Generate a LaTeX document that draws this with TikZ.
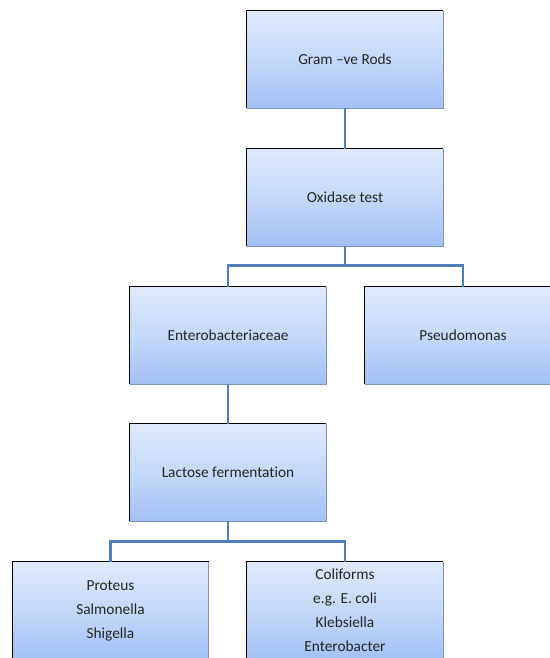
\documentclass[tikz,border=0pt]{standalone}
\usepackage{fontspec}
\setmainfont{Carlito}[Ligatures={NoCommon,NoRare}]
\usetikzlibrary{calc}
\definecolor{topc}{HTML}{E0E9FB}
\definecolor{midc}{HTML}{C5D8F9}
\definecolor{botc}{HTML}{A3C0F6}
\definecolor{edgec}{HTML}{4F7EB8}
\definecolor{rimc}{HTML}{8094B8}
\begin{document}
\begin{tikzpicture}[x=0.75pt,y=-0.75pt,
  box/.style={rectangle, inner sep=0pt, minimum width=147pt, minimum height=72.75pt,
    top color=topc, bottom color=botc, middle color=midc, draw=none,
    font=\fontsize{11.5pt}{18pt}\selectfont, align=center, text=black!85},
  link/.style={draw=edgec, line width=2.2pt}]
\useasboundingbox (0,0) rectangle (550,658);
\node[box] (g) at (345,59.5) {Gram –ve Rods};
\node[box] (o) at (345,197.5) {Oxidase test};
\node[box] (e) at (228,335.5) {Enterobacteriaceae};
\node[box] (p) at (463,335.5) {Pseudomonas};
\node[box] (l) at (228,472.5) {Lactose fermentat\kern0pt ion};
\node[box] (s) at (110.5,610.5) {Proteus\\Salmonella\\Shigella};
\node[box] (c) at (345,610.5) {Coliforms\\e.g. E. coli\\Klebsiella\\Enterobacter};
\foreach \n in {g,o,e,p,l,s,c}{
  \draw[black, line width=1pt] (\n.south west) -- (\n.north west) -- (\n.north east);
  \draw[rimc, line width=0.8pt] (\n.north east) -- (\n.south east) -- (\n.south west);
}
\draw[link] (g.south) -- (o.north);
\draw[link] (o.south) -- ($(o.south)+(0,19)$) -| (e.north);
\draw[link] (o.south) -- ($(o.south)+(0,19)$) -| (p.north);
\draw[link] (e.south) -- (l.north);
\draw[link] (l.south) -- ($(l.south)+(0,20)$) -| (s.north);
\draw[link] (l.south) -- ($(l.south)+(0,20)$) -| (c.north);
\end{tikzpicture}
\end{document}
